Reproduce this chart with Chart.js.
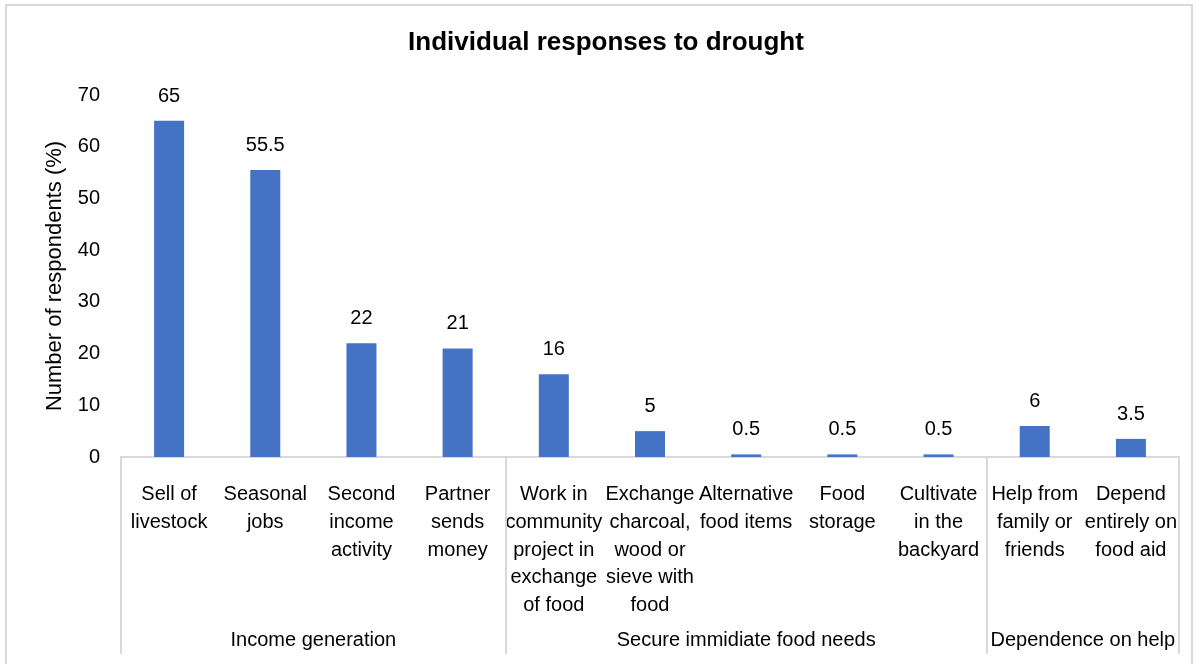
<!DOCTYPE html>
<html>
<head>
<meta charset="utf-8">
<title>Individual responses to drought</title>
<script src="https://cdn.jsdelivr.net/npm/chart.js@4.4.1/dist/chart.umd.min.js"></script>
<style>
    html, body { margin: 0; padding: 0; background: #fff; }
    #wrap { position: relative; width: 1199px; height: 664px; }
</style>
</head>
<body>
<div id="wrap"><canvas id="chartSeca" width="1199" height="664"></canvas></div>
<script>
// --- DATA ---
const categorias = [
    ['Sell of', 'livestock'],
    ['Seasonal', 'jobs'],
    ['Second', 'income', 'activity'],
    ['Partner', 'sends', 'money'],
    ['Work in', 'community', 'project in', 'exchange', 'of food'],
    ['Exchange', 'charcoal,', 'wood or', 'sieve with', 'food'],
    ['Alternative', 'food items'],
    ['Food', 'storage'],
    ['Cultivate', 'in the', 'backyard'],
    ['Help from', 'family or', 'friends'],
    ['Depend', 'entirely on', 'food aid']
];
const valores = [65, 55.5, 22, 21, 16, 5, 0.5, 0.5, 0.5, 6, 3.5];
const valoresTexto = ['65', '55.5', '22', '21', '16', '5', '0.5', '0.5', '0.5', '6', '3.5'];

// groups: name + how many categories they cover
const grupos = ['Income generation', 'Secure immidiate food needs', 'Dependence on help'];
const gruposTamanho = [4, 5, 2];

const yTicks = [0, 10, 20, 30, 40, 50, 60, 70];

const titulo = 'Individual responses to drought';
const corBarra = '#4472C4';
const corLinha = '#d9d9d9';
const fonte = "'Liberation Sans', Arial, sans-serif";

Chart.defaults.font.family = fonte;
Chart.defaults.color = '#000';

// --- plugin: frame, title, data labels, group lines and group names ---
const extrasPlugin = {
    id: 'extras',
    beforeDraw(chart) {
        const ctx = chart.ctx;
        ctx.save();
        ctx.strokeStyle = corLinha;
        ctx.lineWidth = 2;
        ctx.strokeRect(6, 5, 1186, 700);

        // title centred on the frame, not on the chart area
        ctx.font = 'bold 26px ' + fonte;
        ctx.fillStyle = '#000';
        ctx.textAlign = 'center';
        ctx.textBaseline = 'middle';
        ctx.fillText(titulo, 606, 43);
        ctx.restore();
    },
    afterDraw(chart) {
        const ctx = chart.ctx;
        const x = chart.scales.x;
        const meta = chart.getDatasetMeta(0);
        const base = chart.chartArea.bottom;

        // value labels above bars
        ctx.save();
        ctx.font = '20px ' + fonte;
        ctx.fillStyle = '#000';
        ctx.textAlign = 'center';
        ctx.textBaseline = 'alphabetic';
        meta.data.forEach((bar, i) => {
            ctx.fillText(valoresTexto[i], bar.x, bar.y - 19);
        });

        // vertical separators between groups
        const limites = [x.left];
        let idx = 0;
        gruposTamanho.forEach(n => {
            idx += n;
            if (idx >= categorias.length) {
                limites.push(x.right);
            } else {
                limites.push((x.getPixelForValue(idx - 1) + x.getPixelForValue(idx)) / 2);
            }
        });

        ctx.strokeStyle = corLinha;
        ctx.lineWidth = 2;
        limites.forEach(px => {
            const xx = Math.round(px);
            ctx.beginPath();
            ctx.moveTo(xx, base);
            ctx.lineTo(xx, 654);
            ctx.stroke();
        });

        // group names
        ctx.textBaseline = 'middle';
        grupos.forEach((g, i) => {
            ctx.fillText(g, (limites[i] + limites[i + 1]) / 2, 640);
        });
        ctx.restore();
    }
};

new Chart(document.getElementById('chartSeca'), {
    type: 'bar',
    data: {
        labels: categorias,
        datasets: [{
            label: 'Respondents',
            data: valores,
            backgroundColor: corBarra,
            categoryPercentage: 1,
            barPercentage: 0.312
        }]
    },
    options: {
        responsive: false,
        animation: false,
        layout: { padding: { left: 0, right: 20, top: 95, bottom: 0 } },
        plugins: {
            legend: { display: false },
            tooltip: { enabled: false },
            title: { display: false }
        },
        scales: {
            x: {
                grid: { display: false },
                border: { display: true, color: corLinha, width: 2 },
                ticks: {
                    autoSkip: false,
                    maxRotation: 0,
                    minRotation: 0,
                    padding: 16,
                    color: '#000',
                    font: { size: 20, lineHeight: 1.385 }
                },
                afterFit(scale) { scale.height = 207; }
            },
            y: {
                min: 0,
                max: 70,
                grid: { display: false, drawTicks: false },
                border: { display: false },
                afterBuildTicks(scale) { scale.ticks = yTicks.map(v => ({ value: v })); },
                ticks: {
                    padding: 21,
                    color: '#000',
                    font: { size: 20 }
                },
                title: {
                    display: true,
                    text: 'Number of respondents (%)',
                    color: '#000',
                    font: { size: 22, lineHeight: 1.2 },
                    padding: { top: 42, bottom: 0 }
                },
                afterFit(scale) { scale.width = 121; }
            }
        }
    },
    plugins: [extrasPlugin]
});
</script>
</body>
</html>
